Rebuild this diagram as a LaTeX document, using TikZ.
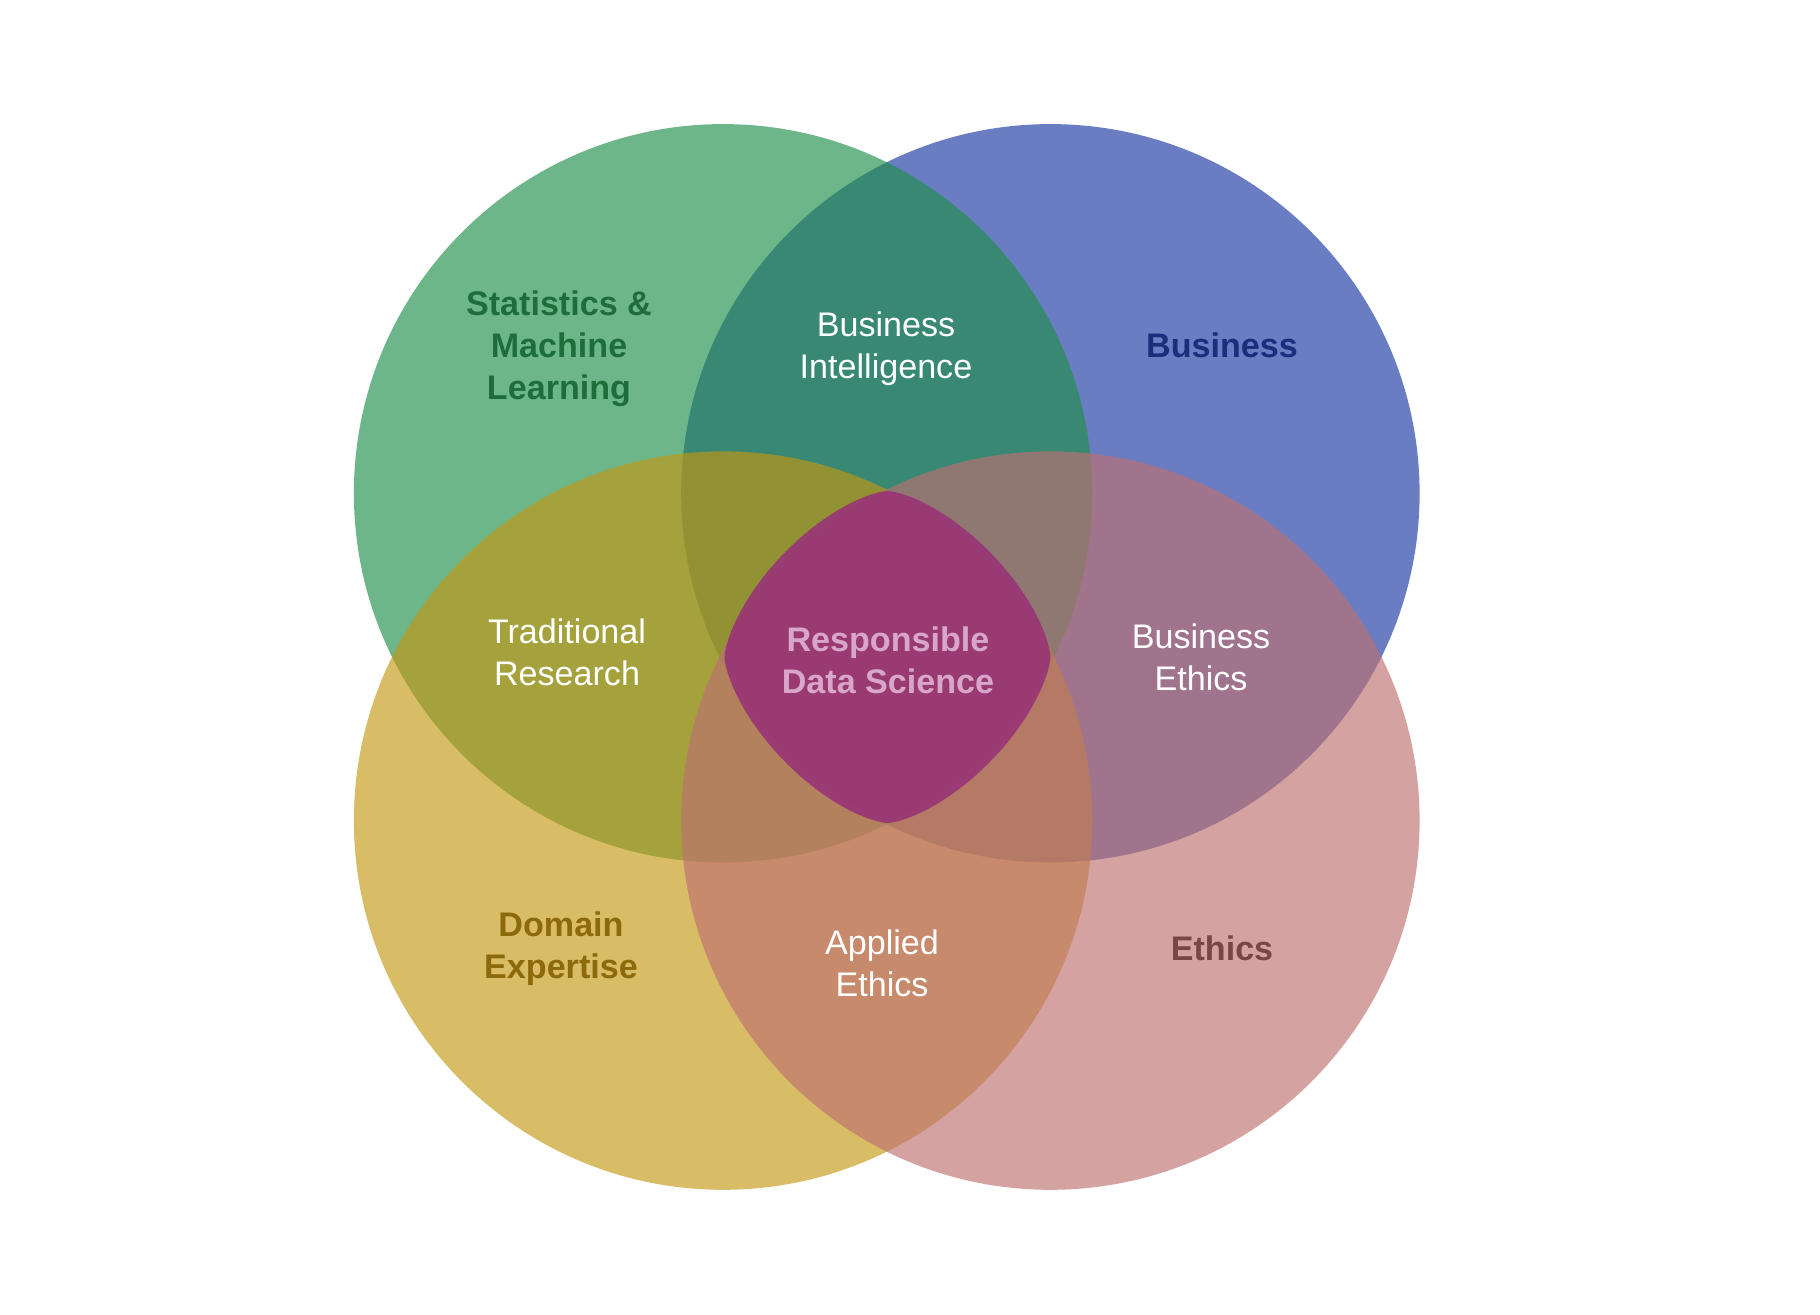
\documentclass[tikz,border=0pt]{standalone}
\usepackage{fontspec}
\setmainfont{Liberation Sans}

\definecolor{statgreen}{RGB}{30,143,75}
\definecolor{busblue}{RGB}{26,55,161}
\definecolor{domyellow}{RGB}{195,152,20}
\definecolor{ethpink}{RGB}{190,112,112}
\definecolor{rdsmag}{RGB}{153,52,118}
\definecolor{statdark}{RGB}{30,110,60}
\definecolor{busdark}{RGB}{28,45,125}
\definecolor{domdark}{RGB}{140,105,10}
\definecolor{ethdark}{RGB}{120,70,70}
\definecolor{rdstext}{RGB}{216,166,200}

\begin{document}
\begin{tikzpicture}[x=0.01cm, y=-0.01cm,
  setdisc/.style={fill opacity=0.65},
  overlap/.style={align=center, text=white, font=\fontsize{9.7}{12}\selectfont},
  setname/.style={align=center, font=\fontsize{9.7}{12}\selectfont\bfseries}]
 \useasboundingbox (0,0) rectangle (1820,1315);
 % the four sets
 \fill [setdisc, fill=busblue] (1050.4,493.3) circle [radius=3.69cm];
 \fill [setdisc, fill=statgreen] (723.1,493.3) circle [radius=3.69cm];
 \fill [setdisc, fill=domyellow] (723.1,820.6) circle [radius=3.69cm];
 \fill [setdisc, fill=ethpink] (1050.4,820.6) circle [radius=3.69cm];
 % common core
 \fill [fill=rdsmag, fill opacity=0.9] plot [domain=0.5:359.5, samples=120]
   ({887.5+163*sign(cos(\x))*abs(cos(\x))^(4/3)}, {657-166*sign(sin(\x))*abs(sin(\x))^(4/3)}) -- cycle;
 % labels
 \node [setname, text=statdark] (stats) at (559,349) {Statistics \&\\Machine\\Learning};
 \node [setname, text=busdark] (business) at (1222,345) {Business};
 \node [setname, text=domdark] (domain) at (561,949) {Domain\\Expertise};
 \node [setname, text=ethdark] (ethics) at (1222,948) {Ethics};
 \node [overlap] (bi) at (886,349) {Business\\Intelligence};
 \node [overlap] (tradres) at (567,652) {Traditional\\Research};
 \node [overlap] (busethics) at (1201,657) {Business\\Ethics};
 \node [overlap] (applied) at (882,963) {Applied\\Ethics};
 \node [setname, text=rdstext] (rds) at (888,660) {Responsible\\Data Science};
\end{tikzpicture}
\end{document}
